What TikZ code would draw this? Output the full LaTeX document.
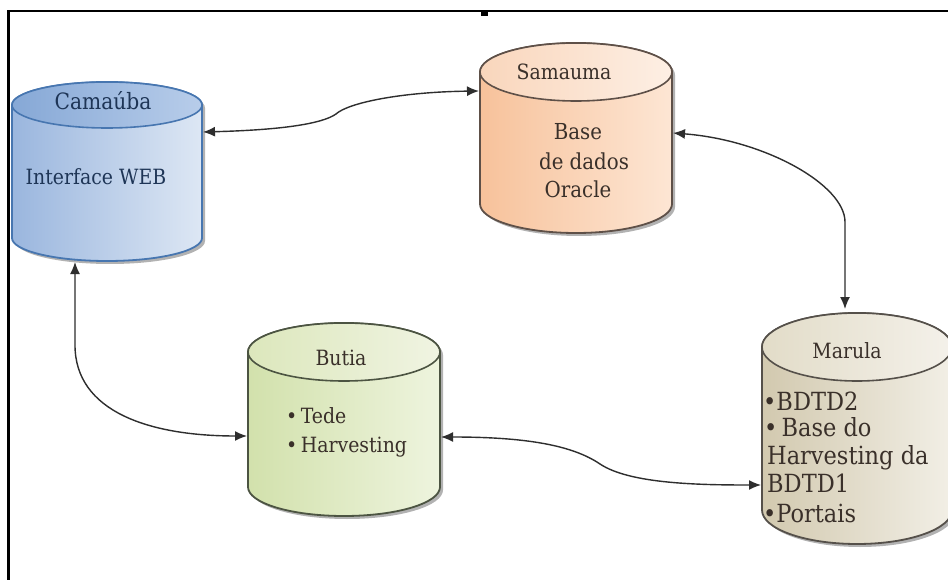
\documentclass[tikz,border=0pt]{standalone}
\usepackage{fontspec}
\setmainfont{Liberation Serif}
\newfontfamily\serf{DejaVu Serif Condensed}
\usetikzlibrary{arrows.meta}
\definecolor{camL}{HTML}{9AB6DE}
\definecolor{camR}{HTML}{DDE7F4}
\definecolor{camTL}{HTML}{86A8D6}
\definecolor{camTR}{HTML}{B8CDEA}
\definecolor{camD}{HTML}{4776B0}
\definecolor{camText}{HTML}{1E3556}
\definecolor{samL}{HTML}{F7C29B}
\definecolor{samR}{HTML}{FDE6D4}
\definecolor{samTL}{HTML}{F9D6BC}
\definecolor{samTR}{HTML}{FDEFE4}
\definecolor{samD}{HTML}{5E5048}
\definecolor{butL}{HTML}{D2E1AC}
\definecolor{butR}{HTML}{EEF4DE}
\definecolor{butTL}{HTML}{DCE7BC}
\definecolor{butTR}{HTML}{F0F4E2}
\definecolor{butD}{HTML}{4C5442}
\definecolor{marL}{HTML}{D2C9AF}
\definecolor{marR}{HTML}{F2EFE6}
\definecolor{marTL}{HTML}{E2DCC8}
\definecolor{marTR}{HTML}{F4F1EA}
\definecolor{marD}{HTML}{55504A}
\definecolor{txtD}{HTML}{3A302A}
\definecolor{lnk}{HTML}{2E2E2E}
\newcommand{\mycyl}[8]{%
  \fill[black,opacity=0.3] ({#1-#4+3},{-#2-3}) -- ({#1-#4+3},{-#3-3})
    arc[start angle=180,end angle=360,x radius=#4,y radius=#5]
    -- ({#1+#4+3},{-#2-3})
    arc[start angle=0,end angle=180,x radius=#4,y radius=#5] -- cycle;
  \draw[line width=1.8pt,draw=#8,#6] ({#1-#4},{-#2}) -- ({#1-#4},{-#3})
    arc[start angle=180,end angle=360,x radius=#4,y radius=#5]
    -- ({#1+#4},{-#2})
    arc[start angle=0,end angle=180,x radius=#4,y radius=#5] -- cycle;
  \draw[line width=1.6pt,draw=#8,#7] (#1,-#2) ellipse[x radius=#4,y radius=#5];
}
\tikzset{
  lbl/.style={inner sep=0pt,anchor=base},
  lst/.style={inner sep=0pt,anchor=base west},
  link/.style={draw=lnk,line width=1.4pt,
    {Latex[length=12pt,width=10pt]}-{Latex[length=12pt,width=10pt]}},
}
\begin{document}
\begin{tikzpicture}[x=1pt,y=1pt]
\useasboundingbox (0,0) rectangle (948,-580);
\fill[white] (0,0) rectangle (948,-580);
% frame
\draw[line width=2.2pt] (8.5,-580) -- (8.5,-11) -- (948,-11);
\fill (481,-12) rectangle (488,-16);
% cylinders
\mycyl{107}{105}{238}{95}{23}{left color=camL,right color=camR}{left color=camTL,right color=camTR}{camD}
\mycyl{576}{72}{204}{96}{29}{left color=samL,right color=samR}{left color=samTL,right color=samTR}{samD}
\mycyl{344}{352}{487}{96}{29}{left color=butL,right color=butR}{left color=butTL,right color=butTR}{butD}
\mycyl{857}{347}{510}{95}{34}{left color=marL,right color=marR}{left color=marTL,right color=marTR}{marD}
% texts
\node[lbl,text=camText,font=\serf\fontsize{22.5}{28}\selectfont] (camT) at (103,-110) {Camaúba};
\node[lbl,text=camText,font=\serf\fontsize{21}{28}\selectfont] (camB) at (96,-185) {Interface WEB};
\node[lbl,text=txtD,font=\serf\fontsize{21}{28}\selectfont] (samT) at (564,-80) {Samauma};
\node[lbl,text=txtD,font=\serf\fontsize{22}{28}\selectfont] (samB1) at (578,-140) {Base};
\node[lbl,text=txtD,font=\serf\fontsize{22}{28}\selectfont] (samB2) at (584,-170) {de dados};
\node[lbl,text=txtD,font=\serf\fontsize{22}{28}\selectfont] (samB3) at (578,-198) {Oracle};
\node[lbl,text=txtD,font=\serf\fontsize{21}{28}\selectfont] (butT) at (341,-365) {Butia};
\node[lst,text=txtD,font=\serf\fontsize{21}{28}\selectfont] (butB1) at (286,-423) {•\,Tede};
\node[lst,text=txtD,font=\serf\fontsize{21}{28}\selectfont] (butB2) at (286,-452) {•\,Harvesting};
\node[lbl,text=txtD,font=\serf\fontsize{21}{28}\selectfont] (marT) at (847,-358) {Marula};
\node[lst,text=txtD,font=\serf\fontsize{25}{28}\selectfont] (marB1) at (763,-410) {•BDTD2};
\node[lst,text=txtD,font=\serf\fontsize{25}{28}\selectfont] (marB2) at (764,-436) {•\,Base do};
\node[lst,text=txtD,font=\serf\fontsize{25}{28}\selectfont] (marB3) at (767,-464) {Harvesting da};
\node[lst,text=txtD,font=\serf\fontsize{25}{28}\selectfont] (marB4) at (767,-492) {BDTD1};
\node[lst,text=txtD,font=\serf\fontsize{25}{28}\selectfont] (marB5) at (763,-522) {•Portais};
% connector end points
\coordinate (camR) at (203,-132);
\coordinate (camBot) at (75,-262);
\coordinate (samLft) at (479,-91);
\coordinate (samRgt) at (673,-133);
\coordinate (butLft) at (247,-436);
\coordinate (butRgt) at (441,-437);
\coordinate (marTop) at (845,-309);
\coordinate (marLft) at (761,-485);
% connectors
\draw[link] (camR) .. controls (280,-130) and (322,-124) .. (336,-114)
  .. controls (348,-103) and (400,-92) .. (samLft);
\draw[link] (samRgt) .. controls (765,-140) and (845,-185) .. (845,-222) -- (marTop);
\draw[link] (camBot) -- (75,-345) .. controls (75,-412) and (150,-436) .. (butLft);
\draw[link] (butRgt) .. controls (525,-437) and (572,-445) .. (600,-464)
  .. controls (630,-484) and (700,-485) .. (marLft);
\end{tikzpicture}
\end{document}
